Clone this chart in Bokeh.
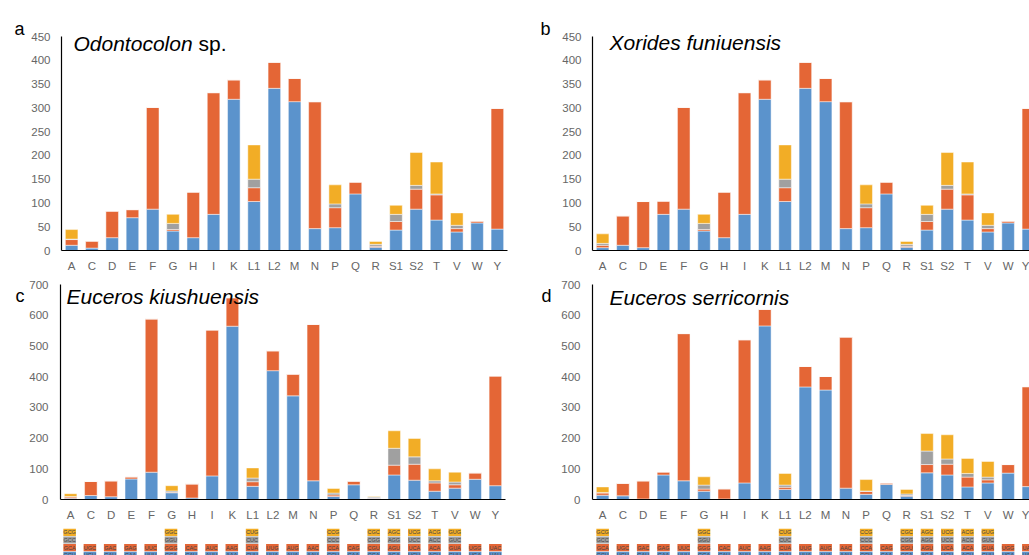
from bokeh.plotting import figure
from bokeh.layouts import column, row
from bokeh.models import Range1d, FixedTicker, Label, ColumnDataSource
from bokeh.embed import file_html
from bokeh.resources import INLINE
from bokeh.core.properties import value

categories = ["A", "C", "D", "E", "F", "G", "H", "I", "K", "L1", "L2", "M", "N",
              "P", "Q", "R", "S1", "S2", "T", "V", "W", "Y"]

# codons per amino acid, bottom (blue) to top (yellow)
codons = [
    ["GCU", "GCA", "GCC", "GCG"], ["UGU", "UGC"], ["GAU", "GAC"], ["GAA", "GAG"],
    ["UUU", "UUC"], ["GGA", "GGG", "GGU", "GGC"], ["CAU", "CAC"], ["AUU", "AUC"],
    ["AAA", "AAG"], ["CUU", "CUA", "CUC", "CUG"], ["UUA", "UUG"], ["AUA", "AUG"],
    ["AAU", "AAC"], ["CCU", "CCA", "CCC", "CCG"], ["CAA", "CAG"],
    ["CGA", "CGU", "CGG", "CGC"], ["AGA", "AGU", "AGG", "AGC"],
    ["UCU", "UCA", "UCC", "UCG"], ["ACU", "ACA", "ACC", "ACG"],
    ["GUU", "GUA", "GUC", "GUG"], ["UGA", "UGG"], ["UAU", "UAC"],
]

# Panel a: Odontocolon sp.
a_c1 = [11, 5, 27, 69, 87, 41, 27, 76, 318, 103, 341, 313, 46, 48, 119, 7, 43, 87, 64, 39, 58, 45]
a_c2 = [12, 15, 56, 17, 214, 3, 96, 256, 41, 29, 55, 49, 267, 42, 25, 2, 18, 42, 53, 7, 4, 254]
a_c3 = [1, 0, 0, 0, 0, 13, 0, 0, 0, 18, 0, 0, 0, 8, 0, 4, 15, 8, 2, 7, 0, 0]
a_c4 = [20, 0, 0, 0, 0, 19, 0, 0, 0, 72, 0, 0, 0, 40, 0, 6, 19, 69, 67, 26, 0, 0]

# Panel b: Xorides funiuensis
b_c1 = [6, 11, 6, 76, 87, 41, 27, 76, 318, 103, 341, 313, 46, 48, 119, 7, 43, 87, 64, 39, 58, 45]
b_c2 = [5, 62, 97, 28, 214, 3, 96, 256, 41, 29, 55, 49, 267, 42, 25, 2, 18, 42, 53, 7, 4, 254]
b_c3 = [4, 0, 0, 0, 0, 13, 0, 0, 0, 18, 0, 0, 0, 8, 0, 4, 15, 8, 2, 7, 0, 0]
b_c4 = [20, 0, 0, 0, 0, 19, 0, 0, 0, 72, 0, 0, 0, 40, 0, 6, 19, 69, 67, 26, 0, 0]

# Panel c: Euceros kiushuensis
c_c1 = [4, 13, 9, 67, 89, 22, 5, 77, 565, 43, 420, 338, 61, 10, 48, 4, 80, 63, 27, 37, 66, 45]
c_c2 = [4, 46, 52, 7, 500, 2, 46, 476, 93, 15, 65, 71, 510, 5, 12, 1, 32, 52, 27, 11, 21, 358]
c_c3 = [2, 0, 0, 0, 0, 4, 0, 0, 0, 12, 0, 0, 0, 6, 0, 3, 55, 24, 7, 9, 0, 0]
c_c4 = [9, 0, 0, 0, 0, 17, 0, 0, 0, 33, 0, 0, 0, 15, 0, 2, 57, 60, 39, 32, 0, 0]

# Panel d: Euceros serricornis
d_c1 = [14, 12, 2, 80, 61, 27, 2, 54, 566, 33, 367, 357, 37, 17, 49, 11, 87, 80, 41, 54, 86, 42]
d_c2 = [7, 41, 59, 10, 480, 7, 33, 467, 54, 7, 67, 44, 493, 9, 5, 2, 27, 35, 32, 10, 28, 326]
d_c3 = [2, 0, 0, 0, 0, 13, 0, 0, 0, 7, 0, 0, 0, 2, 0, 5, 44, 17, 12, 9, 0, 0]
d_c4 = [18, 0, 0, 0, 0, 27, 0, 0, 0, 38, 0, 0, 0, 37, 0, 15, 57, 79, 49, 51, 0, 0]

ticks_ab = [0, 50, 100, 150, 200, 250, 300, 350, 400, 450]
ticks_cd = [0, 100, 200, 300, 400, 500, 600, 700]

COLORS = ["#5B93CC", "#E46636", "#A0A0A0", "#F2AD26"]
FONT = "Liberation Sans"
N = len(categories)
XPOS = [i + 0.5 for i in range(N)]
CAT_PX = 446.0 / N

# vertical geometry (page px): row1 frame 12..250 (axis 0..450 spans 36..250)
PY_AB = 214 / 450.0
YEND_AB = 238 / PY_AB
# row2 frame 278..499 (axis 0..700 spans 284.3..499)
PY_CD = 214.7 / 700.0
YEND_CD = 221 / PY_CD


def clean(p):
    p.xgrid.visible = False
    p.ygrid.visible = False
    p.outline_line_color = None
    p.background_fill_color = "white"
    p.border_fill_color = "white"


def bar_panel(c1, c2, c3, c4, ymax, yend, yticks, width, height, bl, br, bt, bb, frame_w, ystand):
    xend = frame_w / CAT_PX
    p = figure(width=width, height=height, x_range=Range1d(0, xend), y_range=Range1d(0, yend),
               output_backend="svg", toolbar_location=None,
               min_border_left=bl, min_border_right=br, min_border_top=bt, min_border_bottom=bb)
    src = ColumnDataSource(dict(x=XPOS, c1=c1, c2=c2, c3=c3, c4=c4))
    p.vbar_stack(["c1", "c2", "c3", "c4"], x="x", width=0.62, source=src,
                 fill_color=COLORS, line_color="white", line_alpha=0.6, line_width=0.8)
    clean(p)
    p.xaxis.ticker = FixedTicker(ticks=XPOS)
    p.xaxis.major_label_overrides = {x: c for x, c in zip(XPOS, categories)}
    p.yaxis.ticker = FixedTicker(ticks=yticks)
    p.yaxis.bounds = (0, ymax)
    for ax in (p.xaxis, p.yaxis):
        ax.major_tick_line_color = None
        ax.minor_tick_line_color = None
        ax.major_tick_out = 0
        ax.major_tick_in = 0
        ax.axis_line_color = "black"
        ax.axis_line_width = 1.2
        ax.major_label_text_font = FONT
        ax.major_label_text_font_size = "11.5px"
        ax.major_label_text_color = "#666666"
    p.xaxis.major_label_standoff = 9
    p.yaxis.major_label_standoff = ystand
    return p


def add_text(p, fx0, fy0, pxx, pxy, px, py, text, size, style):
    p.add_layout(Label(x=(px - fx0) / pxx, y=(fy0 - py) / pxy, text=text,
                       text_font=FONT, text_font_size=size, text_font_style=style,
                       text_color="black", text_align="left", text_baseline="alphabetic"))


def letter_strip(width, height, bt, bb, yend, y0, pxy, lx, ly, text):
    # narrow figure (frame aligned with its row neighbours) holding a panel letter
    p = figure(width=width, height=height, x_range=Range1d(0, width), y_range=Range1d(0, yend),
               output_backend="svg", toolbar_location=None,
               x_axis_location=None, y_axis_location=None,
               min_border_left=0, min_border_right=0, min_border_top=bt, min_border_bottom=bb)
    clean(p)
    p.add_layout(Label(x=lx, y=(y0 - ly) / pxy, text=text, text_font=FONT, text_font_size="18px",
                       text_color="black", text_align="left", text_baseline="alphabetic"))
    return p


# ---- top row (page y 0..276)
la = letter_strip(28, 276, 12, 26, YEND_AB, 250, PY_AB, 14, 28, "a")
fa = bar_panel(a_c1, a_c2, a_c3, a_c4, 450, YEND_AB, ticks_ab, 504, 276, 33, 25, 12, 26, 446, 11)
lb = letter_strip(26, 276, 12, 26, YEND_AB, 250, PY_AB, 8, 28, "b")
fb = bar_panel(b_c1, b_c2, b_c3, b_c4, 450, YEND_AB, ticks_ab, 471, 276, 34, 0, 12, 26, 437, 11)

# ---- middle row (page y 276..524)
lc = letter_strip(26, 248, 2, 25, YEND_CD, 499, PY_CD, 15, 295.7, "c")
fc = bar_panel(c_c1, c_c2, c_c3, c_c4, 700, YEND_CD, ticks_cd, 506, 248, 33, 27, 2, 25, 446, 12)
ld = letter_strip(26, 248, 2, 25, YEND_CD, 499, PY_CD, 9, 295.7, "d")
fd = bar_panel(d_c1, d_c2, d_c3, d_c4, 700, YEND_CD, ticks_cd, 471, 248, 34, 0, 2, 25, 437, 12)

add_text(fa, 61, 250, CAT_PX, PY_AB, 73, 43, "Odontocolon", "21px", "italic")
add_text(fa, 61, 250, CAT_PX, PY_AB, 198, 43, "sp.", "21px", "normal")
add_text(fb, 592, 250, CAT_PX, PY_AB, 609, 42, "Xorides funiuensis", "21px", "italic")
add_text(fc, 59, 499, CAT_PX, PY_CD, 65, 295.5, "Euceros kiushuensis", "21px", "italic")
add_text(fd, 592, 499, CAT_PX, PY_CD, 609, 297, "Euceros serricornis", "21px", "italic")


def codon_panel(width, bl, br, frame_w):
    xend = frame_w / CAT_PX
    p = figure(width=width, height=31, x_range=Range1d(0, xend), y_range=Range1d(0.478, 4.522),
               output_backend="svg", toolbar_location=None,
               x_axis_location=None, y_axis_location=None,
               min_border_left=bl, min_border_right=br, min_border_top=0, min_border_bottom=0)
    clean(p)
    xs, ys, fills, texts = [], [], [], []
    for x, cl in zip(XPOS, codons):
        for k, cod in enumerate(cl):
            xs.append(x)
            ys.append(k + 0.5)
            fills.append(COLORS[k])
            texts.append(cod)
    src = ColumnDataSource(dict(x=xs, y=ys, fill=fills, text=texts))
    p.rect(x="x", y="y", width=0.62, height=0.94, fill_color="fill", line_color=None, source=src)
    p.text(x="x", y="y", text="text", source=src, text_font=value(FONT),
           text_font_size=value("5.5px"), text_align="center", text_baseline="middle",
           text_color="#444444")
    return p


# ---- bottom strip (page y 524..555): codon boxes
fe = codon_panel(532, 59, 27, 446)
ff = codon_panel(497, 60, 0, 437)

layout = column(row(la, fa, lb, fb), row(lc, fc, ld, fd), row(fe, ff))

open("out.html", "w").write(file_html(layout, INLINE))
